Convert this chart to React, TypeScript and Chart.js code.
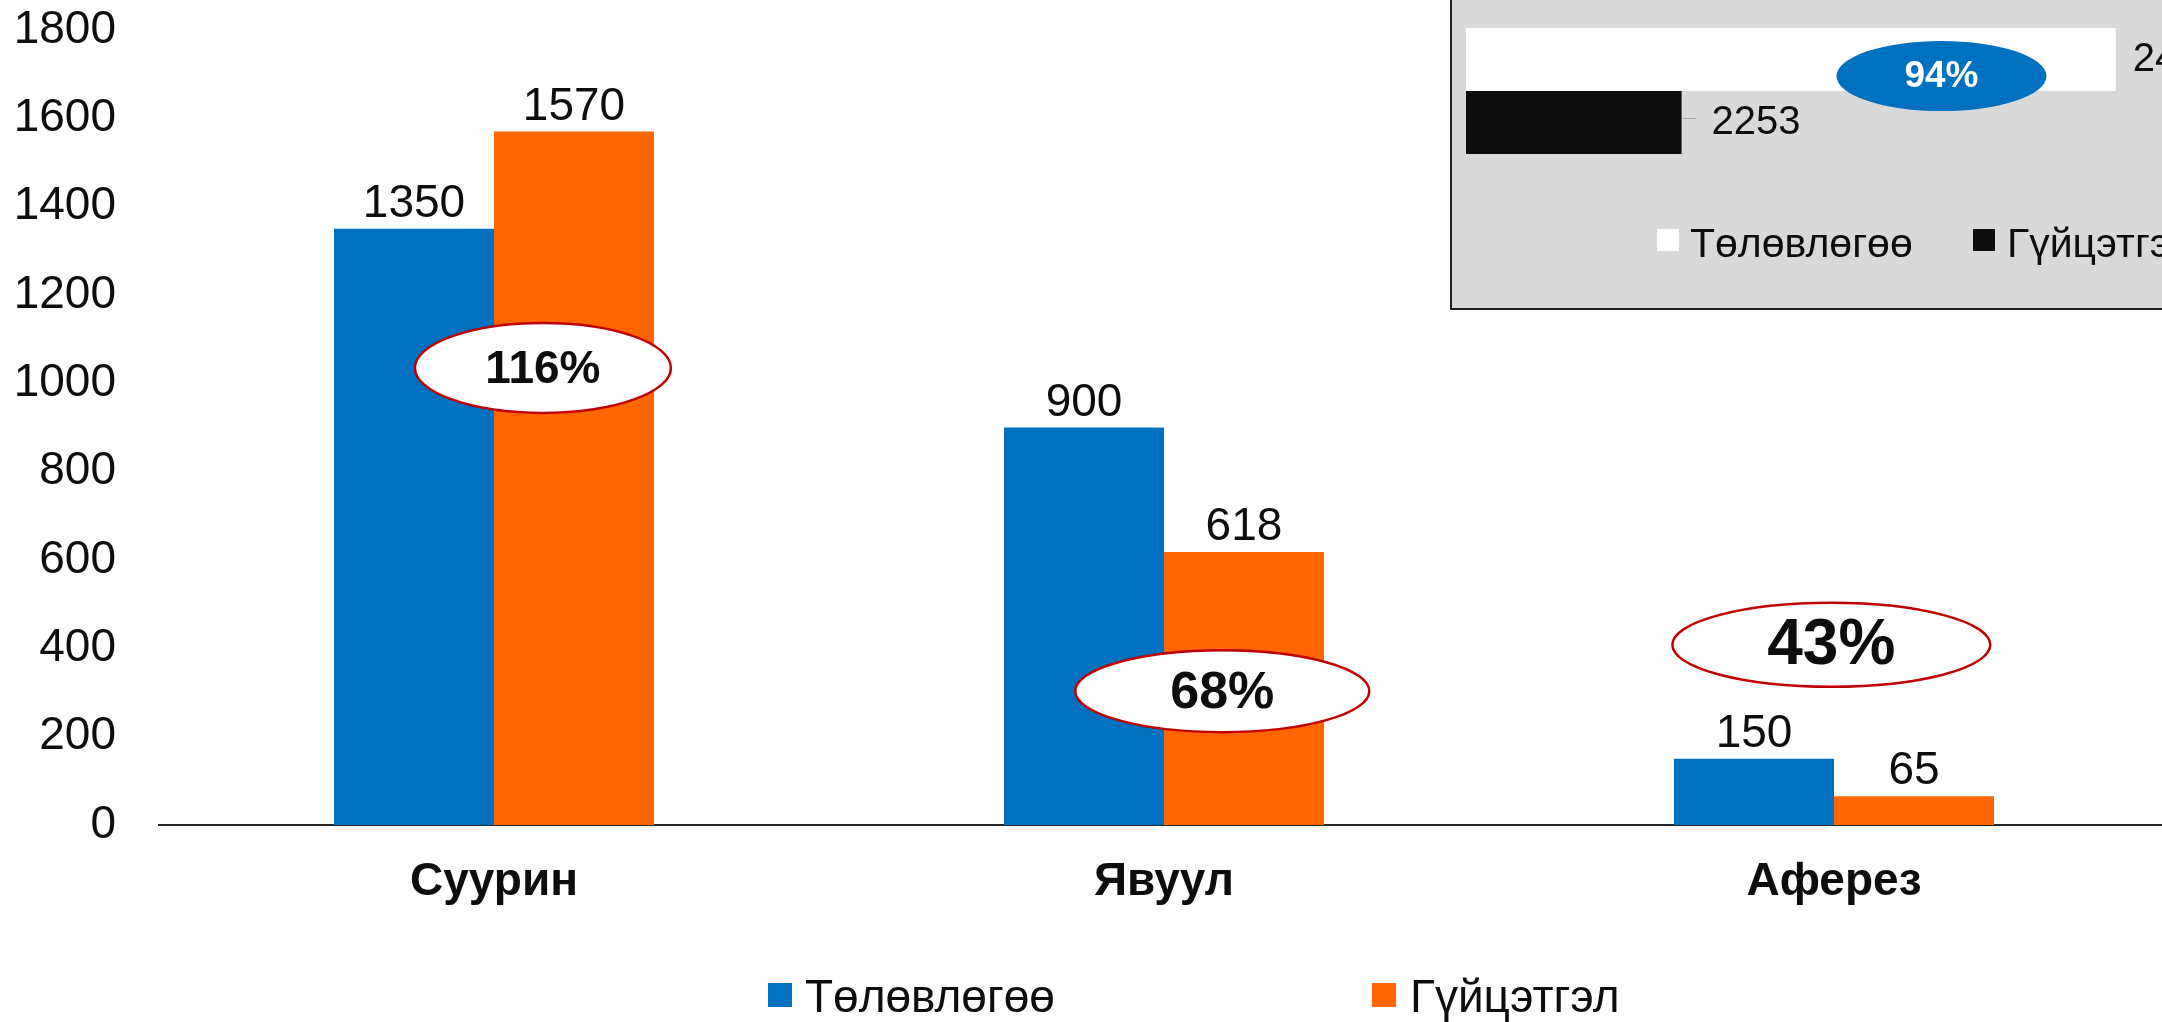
import React, { useEffect, useRef } from 'react';
import { Chart, registerables } from 'chart.js';

Chart.register(...registerables);

const FONT = "'Liberation Sans', Arial, Helvetica, sans-serif";
const TEXT = '#0d0d0d';

// ---- main chart data ----
const categories = ['Суурин', 'Явуул', 'Аферез'];
const seriesNames = ['Төлөвлөгөө', 'Гүйцэтгэл'];
const planValues = [1350, 900, 150];
const actualValues = [1570, 618, 65];
const yTickValues = [0, 200, 400, 600, 800, 1000, 1200, 1400, 1600, 1800];
const ratioLabels = ['116%', '68%', '43%'];

// ---- inset chart data ----
const insetCategories = [''];
const insetPlan = [2400];
const insetActual = [2253];
const insetRatioLabel = '94%';

// ---- styles / annotation placement (in data space) ----
const seriesColors = ['#0070C0', '#FF6600'];
const insetColors = ['#FFFFFF', '#0D0D0D'];
const ratioBubbles = [
  { dx: 0.073, y: 1035, rx: 128, ry: 45, size: 46 },
  { dx: 0.087, y: 303, rx: 147, ry: 41, size: 52 },
  { dx: -0.004, y: 408, rx: 159, ry: 42, size: 64 },
];
const insetBubble = { x: 2341, y: -0.082, rx: 105, ry: 35, size: 37 };
const mainLegend = { items: [{ box: 768, text: 805 }, { box: 1372, text: 1410 }], boxTop: 983, box: 24, baseline: 1012, size: 46 };
const insetLegend = { items: [{ box: 206, text: 239 }, { box: 522, text: 556 }], boxTop: 229, box: 22, baseline: 257, size: 41 };
const insetLabelOffsets = [17, 30];

const mainPlugin = {
  id: 'mainDecor',
  afterDatasetsDraw(chart: any) {
    const ctx = chart.ctx as CanvasRenderingContext2D;
    ctx.save();
    ctx.font = `46px ${FONT}`;
    ctx.fillStyle = TEXT;
    ctx.textAlign = 'center';
    ctx.textBaseline = 'alphabetic';
    chart.data.datasets.forEach((ds: any, i: number) => {
      const meta = chart.getDatasetMeta(i);
      meta.data.forEach((bar: any, j: number) => {
        ctx.fillText(String(ds.data[j]), bar.x, bar.y - 12);
      });
    });
    const xs = chart.scales.x;
    const ys = chart.scales.y;
    ratioLabels.forEach((label, i) => {
      const b = ratioBubbles[i];
      const cx = xs.getPixelForValue(i + b.dx);
      const cy = ys.getPixelForValue(b.y);
      ctx.beginPath();
      ctx.ellipse(cx, cy, b.rx, b.ry, 0, 0, Math.PI * 2);
      ctx.fillStyle = '#FFFFFF';
      ctx.fill();
      ctx.lineWidth = 2.5;
      ctx.strokeStyle = '#C00000';
      ctx.stroke();
      ctx.fillStyle = TEXT;
      ctx.font = `bold ${b.size}px ${FONT}`;
      ctx.textAlign = 'center';
      ctx.textBaseline = 'middle';
      ctx.fillText(label, cx, cy + 2);
    });
    // legend
    ctx.textAlign = 'left';
    ctx.textBaseline = 'alphabetic';
    ctx.font = `${mainLegend.size}px ${FONT}`;
    seriesNames.forEach((name, i) => {
      const it = mainLegend.items[i];
      ctx.fillStyle = seriesColors[i];
      ctx.fillRect(it.box, mainLegend.boxTop, mainLegend.box, mainLegend.box);
      ctx.fillStyle = TEXT;
      ctx.fillText(name, it.text, mainLegend.baseline);
    });
    ctx.restore();
  },
};

const insetPlugin = {
  id: 'insetDecor',
  afterDatasetsDraw(chart: any) {
    const ctx = chart.ctx as CanvasRenderingContext2D;
    ctx.save();
    ctx.font = `40px ${FONT}`;
    ctx.fillStyle = TEXT;
    ctx.textAlign = 'left';
    ctx.textBaseline = 'middle';
    chart.data.datasets.forEach((ds: any, i: number) => {
      const meta = chart.getDatasetMeta(i);
      meta.data.forEach((bar: any, j: number) => {
        const off = insetLabelOffsets[i];
        if (i === 1) {
          ctx.strokeStyle = '#A6A6A6';
          ctx.lineWidth = 1;
          ctx.beginPath();
          ctx.moveTo(bar.x + 1, bar.y - 4);
          ctx.lineTo(bar.x + 14, bar.y - 4);
          ctx.stroke();
        }
        ctx.fillStyle = TEXT;
        ctx.fillText(String(ds.data[j]), bar.x + off, bar.y);
      });
    });
    const xs = chart.scales.x;
    const ys = chart.scales.y;
    const cx = xs.getPixelForValue(insetBubble.x);
    const cy = ys.getPixelForValue(insetBubble.y);
    ctx.beginPath();
    ctx.ellipse(cx, cy, insetBubble.rx, insetBubble.ry, 0, 0, Math.PI * 2);
    ctx.fillStyle = '#0070C0';
    ctx.fill();
    ctx.fillStyle = '#FFFFFF';
    ctx.font = `bold ${insetBubble.size}px ${FONT}`;
    ctx.textAlign = 'center';
    ctx.textBaseline = 'middle';
    ctx.fillText(insetRatioLabel, cx, cy + 1);
    // legend
    ctx.textAlign = 'left';
    ctx.textBaseline = 'alphabetic';
    ctx.font = `${insetLegend.size}px ${FONT}`;
    seriesNames.forEach((name, i) => {
      const it = insetLegend.items[i];
      ctx.fillStyle = insetColors[i];
      ctx.fillRect(it.box, insetLegend.boxTop, insetLegend.box, insetLegend.box);
      ctx.fillStyle = TEXT;
      ctx.fillText(name, it.text, insetLegend.baseline);
    });
    ctx.restore();
  },
};

export default function App() {
  const mainRef = useRef<HTMLCanvasElement>(null);
  const insetRef = useRef<HTMLCanvasElement>(null);

  useEffect(() => {
    if (!mainRef.current || !insetRef.current) return;
    Chart.defaults.font.family = FONT;

    const main = new Chart(mainRef.current, {
      type: 'bar',
      data: {
        labels: categories,
        datasets: [
          { label: seriesNames[0], data: planValues, backgroundColor: seriesColors[0], categoryPercentage: 0.4776, barPercentage: 1 },
          { label: seriesNames[1], data: actualValues, backgroundColor: seriesColors[1], categoryPercentage: 0.4776, barPercentage: 1 },
        ],
      },
      options: {
        animation: false,
        responsive: false,
        devicePixelRatio: 1,
        layout: { padding: { top: 30, right: 11, bottom: 0, left: 0 } },
        plugins: { legend: { display: false }, tooltip: { enabled: false } },
        scales: {
          x: {
            grid: { display: false, drawTicks: false },
            border: { display: true, color: '#262626', width: 2 },
            ticks: { padding: 30, color: TEXT, font: { size: 46, weight: 'bold', family: FONT } },
            afterFit: (s: any) => { s.height = 197; s.paddingLeft = 0; s.paddingRight = 0; },
          },
          y: {
            min: 0,
            max: 1800,
            grid: { display: false, drawTicks: false },
            border: { display: false },
            ticks: { padding: 43, color: TEXT, font: { size: 46, family: FONT }, callback: (v: any) => String(v), autoSkip: false },
            afterBuildTicks: (s: any) => { s.ticks = yTickValues.map((v) => ({ value: v })); },
            afterFit: (s: any) => { s.width = 159; s.paddingTop = 0; s.paddingBottom = 0; },
          },
        },
      } as any,
      plugins: [mainPlugin],
    });

    const inset = new Chart(insetRef.current, {
      type: 'bar',
      data: {
        labels: insetCategories,
        datasets: [
          { label: seriesNames[0], data: insetPlan, backgroundColor: insetColors[0], categoryPercentage: 0.692, barPercentage: 1 },
          { label: seriesNames[1], data: insetActual, backgroundColor: insetColors[1], categoryPercentage: 0.692, barPercentage: 1 },
        ],
      },
      options: {
        indexAxis: 'y',
        animation: false,
        responsive: false,
        devicePixelRatio: 1,
        layout: { padding: { top: 0, right: 2, bottom: 127, left: 15 } },
        plugins: { legend: { display: false }, tooltip: { enabled: false } },
        scales: {
          x: { display: false, min: 2180, max: 2415 },
          y: { display: false },
        },
      } as any,
      plugins: [insetPlugin],
    });

    return () => {
      main.destroy();
      inset.destroy();
    };
  }, []);

  return (
    <div style={{ position: 'fixed', left: 0, top: 0, width: 2162, height: 1022, overflow: 'hidden', background: '#ffffff' }}>
      <canvas ref={mainRef} width={2180} height={1022} style={{ position: 'absolute', left: 0, top: 0, width: 2180, height: 1022 }} />
      <div style={{ position: 'absolute', left: 1450, top: -10, width: 740, height: 320, boxSizing: 'border-box', border: '2px solid #222', background: '#D9D9D9' }} />
      <canvas ref={insetRef} width={711} height={309} style={{ position: 'absolute', left: 1451, top: 0, width: 711, height: 309 }} />
    </div>
  );
}
